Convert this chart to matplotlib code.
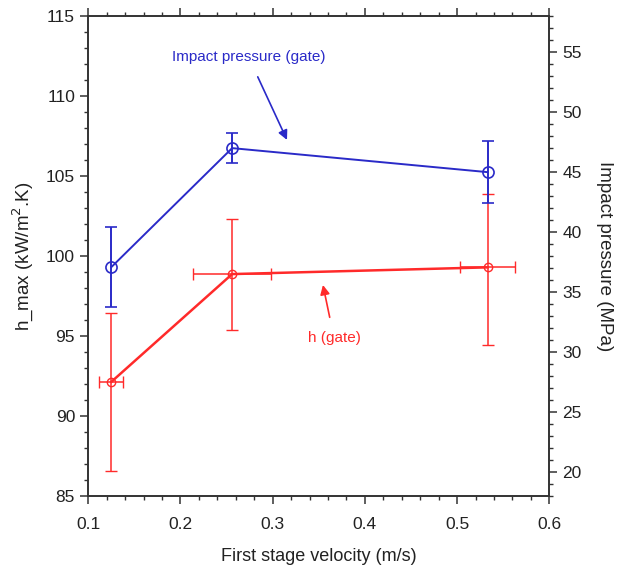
import matplotlib
matplotlib.use("Agg")
import matplotlib.pyplot as plt
from matplotlib.ticker import MultipleLocator, FormatStrFormatter
from matplotlib import font_manager

names = {f.name for f in font_manager.fontManager.ttflist}
FONT = "Liberation Sans Narrow" if "Liberation Sans Narrow" in names else "Liberation Sans"
plt.rcParams['font.family'] = [FONT, 'DejaVu Sans']

# Data
velocity = [0.125, 0.256, 0.533]
h_gate = [92.13, 98.86, 99.28]
h_err_low = [5.6, 3.5, 4.86]
h_err_high = [4.3, 3.41, 4.58]
vel_err = [0.013, 0.042, 0.030]
pressure_gate = [37.06, 46.97, 44.97]
pressure_err = [3.3, 1.25, 2.6]

BLUE = "#2a2ac8"
RED = "#ff2a2a"
AXC = "#333333"

fig = plt.figure(figsize=(6.17, 5.66), dpi=100)
ax = fig.add_axes([0.1431, 0.1237, 0.8903 - 0.1431, 0.9723 - 0.1237])
ax2 = ax.twinx()

ax.errorbar(velocity, h_gate, yerr=[h_err_low, h_err_high], xerr=vel_err,
            color=RED, ecolor=RED, lw=1.8, elinewidth=1.1, capsize=4,
            marker='o', mfc='none', mec=RED, ms=6, mew=1.0, zorder=3)
ax2.errorbar(velocity, pressure_gate, yerr=pressure_err,
             color=BLUE, ecolor=BLUE, lw=1.4, elinewidth=1.4, capsize=4,
             marker='o', mfc='none', mec=BLUE, ms=8, mew=1.2, zorder=3)

ax.set_xlim(0.1, 0.6)
ax.set_ylim(85, 115)
ax2.set_ylim(18, 58)

ax.xaxis.set_major_locator(MultipleLocator(0.1))
ax.xaxis.set_minor_locator(MultipleLocator(0.02))
ax.xaxis.set_major_formatter(FormatStrFormatter('%.1f'))
ax.yaxis.set_major_locator(MultipleLocator(5))
ax.yaxis.set_minor_locator(MultipleLocator(1))
ax2.yaxis.set_major_locator(MultipleLocator(5))
ax2.yaxis.set_minor_locator(MultipleLocator(1))
ax2.set_yticks([20, 25, 30, 35, 40, 45, 50, 55])

for a in (ax, ax2):
    for s in a.spines.values():
        s.set_color(AXC)
        s.set_linewidth(1.2)
ax.tick_params(axis='both', which='major', direction='out', length=6, width=1.1,
               colors=AXC, labelsize=12.5, labelcolor='#222222')
ax.tick_params(axis='both', which='minor', direction='out', length=3, width=1.0, colors=AXC)
ax.tick_params(axis='x', which='both', top=True)
ax.tick_params(axis='x', which='major', pad=9)
ax2.tick_params(axis='y', which='major', direction='out', length=6, width=1.1,
                colors=AXC, labelsize=12.5, labelcolor='#222222')
ax2.tick_params(axis='y', which='minor', direction='out', length=3, width=1.0, colors=AXC)

ax.set_xlabel("First stage velocity (m/s)", fontsize=13, color='#222222', labelpad=12)
ax.set_ylabel("h_max (kW/m$^2$.K)", fontsize=13.5, color='#222222', labelpad=8)
ax2.set_ylabel("Impact pressure (MPa)", fontsize=13.5, color='#222222', rotation=270, labelpad=22)

ax.annotate("Impact pressure (gate)", xy=(0.3155, 107.24), xytext=(0.2738, 112.42),
            color=BLUE, fontsize=11, ha='center', va='center',
            arrowprops=dict(arrowstyle='-|>', color=BLUE, lw=1.2,
                            shrinkA=8, shrinkB=0, mutation_scale=14))
ax.annotate("h (gate)", xy=(0.3545, 98.18), xytext=(0.3665, 94.87),
            color=RED, fontsize=11, ha='center', va='center',
            arrowprops=dict(arrowstyle='-|>', color=RED, lw=1.2,
                            shrinkA=8, shrinkB=0, mutation_scale=14))

fig.savefig("out.png", dpi=100)
